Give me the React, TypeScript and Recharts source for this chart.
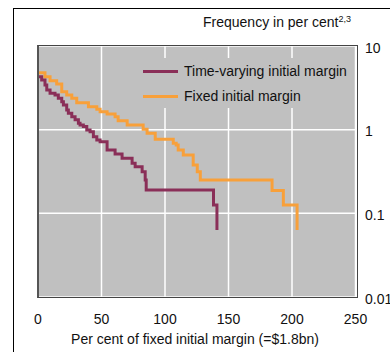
import { LineChart, Line, XAxis, YAxis, CartesianGrid } from "recharts";

// Time-varying initial margin: level starts at x (per cent of fixed IM), frequency in per cent
const timeVaryingX = [
  0, 2.9, 5.5, 6.9, 9.5, 13.4, 16.0, 18.7, 20.0, 22.6, 23.9, 26.6, 29.2, 31.8,
  33.1, 35.7, 38.4, 41.0, 43.6, 46.3, 48.9, 54.4, 60.7, 66.2, 74.1, 76.5, 82.0,
  84.4, 85.2, 138.2, 140.9,
];
const timeVaryingFreq = [
  4.3, 3.93, 3.42, 2.98, 2.72, 2.6, 2.37, 2.16, 1.97, 1.72, 1.57, 1.43, 1.31,
  1.19, 1.14, 1.09, 0.99, 0.946, 0.824, 0.753, 0.719, 0.572, 0.513, 0.455,
  0.397, 0.361, 0.315, 0.25, 0.19, 0.126, 0.063,
];

// Fixed initial margin
const fixedX = [
  0, 5.5, 9.5, 14.7, 18.7, 22.6, 26.6, 30.5, 39.7, 46.3, 48.9, 54.4, 60.7,
  63.1, 70.2, 82.8, 85.9, 92.3, 106.5, 108.8, 110.4, 114.4, 122.2, 125.4,
  127.8, 184.3, 193.2, 204.0,
];
const fixedFreq = [
  4.8, 4.3, 3.85, 3.52, 2.84, 2.6, 2.37, 2.1, 1.88, 1.75, 1.64, 1.54, 1.43,
  1.28, 1.14, 1.01, 0.906, 0.767, 0.688, 0.656, 0.572, 0.499, 0.378, 0.315,
  0.25, 0.187, 0.126, 0.063,
];

const xTicks = [0, 50, 100, 150, 200, 250];
const yTicks = [0.01, 0.1, 1, 10];

const timeVarying = timeVaryingX.map((x, i) => ({ x, y: timeVaryingFreq[i] }));
const fixed = fixedX.map((x, i) => ({ x, y: fixedFreq[i] }));

const FONT = '"Liberation Sans", Arial, sans-serif';
const MAROON = "#8a2f58";
const ORANGE = "#f8a03a";

function XTick({ x, payload }: any) {
  return (
    <text x={x} y={324} textAnchor="middle" fontSize={14} fontFamily={FONT} fill="#111">
      {payload.value}
    </text>
  );
}

function YTick({ y, payload }: any) {
  return (
    <text x={365} y={y + 6.5} textAnchor="start" fontSize={14} fontFamily={FONT} fill="#111">
      {String(payload.value)}
    </text>
  );
}

export default function App() {
  return (
    <div style={{ position: "absolute", left: 0, top: 0, width: 390, height: 352, overflow: "hidden", background: "#fff", fontFamily: FONT }}>
      {/* outer frame */}
      <div style={{ position: "absolute", left: 13, top: 8, width: 420, height: 400, borderLeft: "1px solid #000", borderTop: "1px solid #000" }} />

      <div style={{ position: "absolute", left: 203, top: 15, fontSize: 14, lineHeight: "14px", color: "#111", whiteSpace: "nowrap" }}>
        Frequency in per cent
        <span style={{ fontSize: 9, position: "relative", top: -5 }}>2,3</span>
      </div>

      <div style={{ position: "absolute", left: 0, top: 0 }}>
        <LineChart width={390} height={352} margin={{ top: 46, right: 0, bottom: 0, left: 38 }}>
          <CartesianGrid stroke="#fff" strokeWidth={1.5} fill="#c0c0c0" fillOpacity={1} />
          <XAxis
            type="number"
            dataKey="x"
            domain={[0, 250]}
            ticks={xTicks}
            height={55}
            axisLine={false}
            tickLine={false}
            tick={<XTick />}
            allowDataOverflow
          />
          <YAxis
            type="number"
            orientation="right"
            scale="log"
            domain={[0.01, 10]}
            ticks={yTicks}
            width={34.5}
            axisLine={false}
            tickLine={false}
            tick={<YTick />}
            allowDataOverflow
          />
          <Line data={fixed} dataKey="y" type="stepAfter" stroke={ORANGE} strokeWidth={3} dot={false} isAnimationActive={false} />
          <Line data={timeVarying} dataKey="y" type="stepAfter" stroke={MAROON} strokeWidth={3} dot={false} isAnimationActive={false} />
        </LineChart>
      </div>

      {/* plot frame */}
      <div style={{ position: "absolute", left: 37, top: 45, width: 317.5, height: 251, border: "1px solid #444", borderLeft: "2px solid #555", pointerEvents: "none" }} />

      {/* legend */}
      <div style={{ position: "absolute", left: 138, top: 58, width: 216, height: 50, background: "#c0c0c0" }}>
        <div style={{ position: "absolute", left: 5, top: 12, width: 35, height: 3, background: MAROON }} />
        <div style={{ position: "absolute", left: 46, top: 6, fontSize: 14, lineHeight: "14px", color: "#111", whiteSpace: "nowrap" }}>
          Time-varying initial margin
        </div>
        <div style={{ position: "absolute", left: 5, top: 37, width: 35, height: 3, background: ORANGE }} />
        <div style={{ position: "absolute", left: 46, top: 31, fontSize: 14, lineHeight: "14px", color: "#111", whiteSpace: "nowrap" }}>
          Fixed initial margin
        </div>
      </div>

      <div style={{ position: "absolute", left: 0, width: 390, top: 332, textAlign: "center", fontSize: 14, lineHeight: "14px", color: "#111" }}>
        Per cent of fixed initial margin (=$1.8bn)
      </div>
    </div>
  );
}
